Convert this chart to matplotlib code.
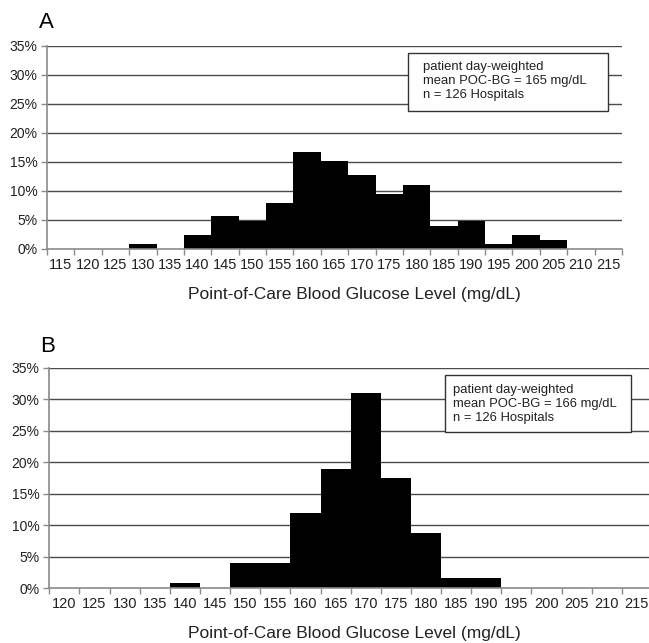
import matplotlib

matplotlib.use('Agg')
import matplotlib.pyplot as plt
import matplotlib.ticker as ticker
from matplotlib.patches import Rectangle

plt.rcParams['font.family'] = ['Liberation Sans', 'DejaVu Sans']

# panel A: share of hospitals per 5 mg/dL bin
bins_a = [115, 120, 125, 130, 135, 140, 145, 150, 155, 160, 165,
          170, 175, 180, 185, 190, 195, 200, 205, 210, 215]
pct_a = [0, 0, 0, 0.8, 0, 2.4, 5.6, 4.8, 7.9, 16.7, 15.1,
         12.7, 9.5, 11.1, 4.0, 4.8, 0.8, 2.4, 1.6, 0, 0]
note_a = 'patient day-weighted\nmean POC-BG = 165 mg/dL\nn = 126 Hospitals'

# panel B
bins_b = [120, 125, 130, 135, 140, 145, 150, 155, 160, 165,
          170, 175, 180, 185, 190, 195, 200, 205, 210, 215]
pct_b = [0, 0, 0, 0, 0.8, 0, 4.0, 4.0, 11.9, 19.0,
         31.0, 17.5, 8.7, 1.6, 1.6, 0, 0, 0, 0, 0]
note_b = 'patient day-weighted\nmean POC-BG = 166 mg/dL\nn = 126 Hospitals'

xlabel = 'Point-of-Care Blood Glucose Level (mg/dL)'
GRID = '#4a4a4a'
AXC = '#8a8a8a'


def draw_panel(ax, bins, pct, note, box, text_pos, label_xy):
    n = len(bins)
    # horizontal gridlines behind the bars
    for v in range(5, 40, 5):
        ax.axhline(v, color=GRID, lw=1.0, zorder=0)
    ax.bar(range(n), pct, width=1, align='edge', color='black', linewidth=0, zorder=2)

    ax.set_xlim(0, n)
    ax.set_ylim(0, 35)
    for s in ['top', 'right']:
        ax.spines[s].set_visible(False)
    for s in ['left', 'bottom']:
        ax.spines[s].set_color(AXC)
        ax.spines[s].set_linewidth(1.2)
        ax.spines[s].set_zorder(3)

    ax.yaxis.set_major_locator(ticker.FixedLocator(range(0, 40, 5)))
    ax.yaxis.set_major_formatter(ticker.FuncFormatter(lambda v, p: f'{v:.0f}%'))
    ax.tick_params(axis='y', length=4, width=1, color=AXC, labelsize=10, pad=3,
                   labelcolor='#222222')

    # ticks on bin edges, labels in the middle of each bin
    ax.xaxis.set_major_locator(ticker.FixedLocator(range(n + 1)))
    ax.xaxis.set_major_formatter(ticker.NullFormatter())
    ax.xaxis.set_minor_locator(ticker.FixedLocator([i + 0.5 for i in range(n)]))
    ax.xaxis.set_minor_formatter(ticker.FixedFormatter([str(b) for b in bins]))
    ax.tick_params(axis='x', which='major', length=4, width=1, color=AXC)
    ax.tick_params(axis='x', which='minor', length=0, labelsize=10.5, pad=6.5,
                   labelcolor='#222222')

    ax.set_xlabel(xlabel, fontsize=12.5, color='#222222', va='top')
    ax.xaxis.set_label_coords(*label_xy)

    # annotation box
    x0, y0, x1, y1 = box
    ax.add_patch(Rectangle((x0, y0), x1 - x0, y1 - y0, transform=ax.transAxes,
                           facecolor='white', edgecolor='#333333', lw=1.0,
                           zorder=4, clip_on=False))
    ax.text(text_pos[0], text_pos[1], note, transform=ax.transAxes, fontsize=9.4,
            va='center', ha='left', linespacing=1.2, color='#222222', zorder=5)


fig = plt.figure(figsize=(6.49, 6.43), dpi=100)
ax_a = fig.add_axes([0.0724, 0.6128, 0.886, 0.3157])
ax_b = fig.add_axes([0.076, 0.0851, 0.9286, 0.3431])

draw_panel(ax_a, bins_a, pct_a, note_a, (0.628, 0.680, 0.9757, 0.9655), (0.654, 0.828), (0.534, -0.185))
draw_panel(ax_b, bins_b, pct_b, note_b, (0.6566, 0.709, 0.9652, 0.967), (0.670, 0.835), (0.5056, -0.17))

fig.text(39 / 649, 1 - 28 / 643, 'A', fontsize=16, va='baseline', ha='left')
fig.text(40 / 649, 1 - 352 / 643, 'B', fontsize=16, va='baseline', ha='left')

plt.savefig('out.png', dpi=100)
plt.close()
